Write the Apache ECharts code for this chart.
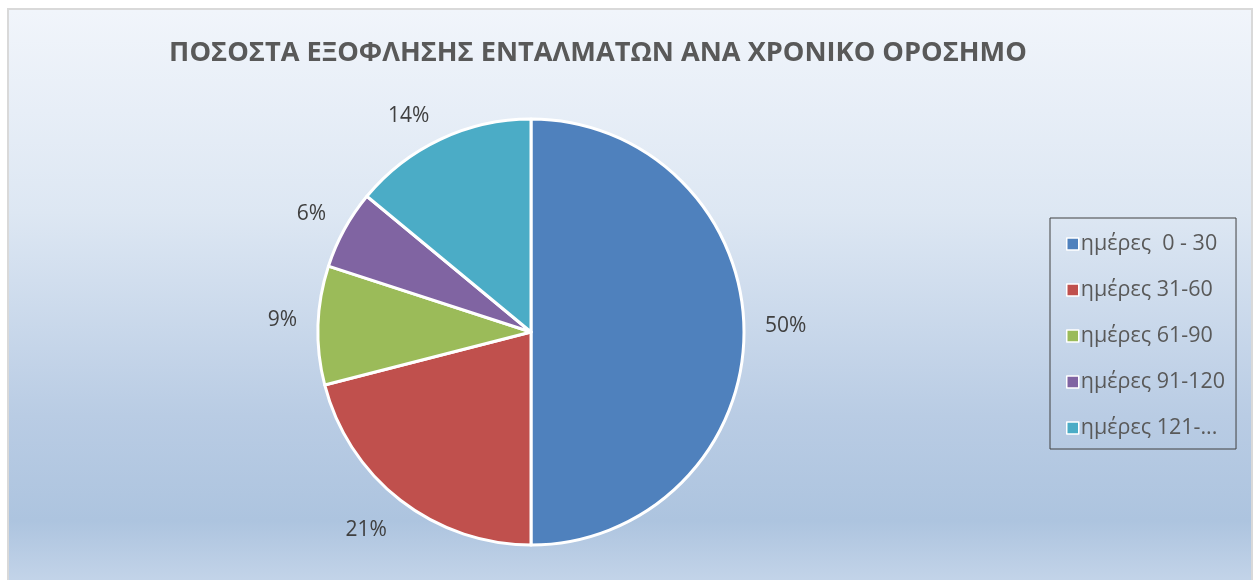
<!DOCTYPE html>
<html>
<head>
<meta charset="utf-8">
<script src="https://cdn.jsdelivr.net/npm/echarts@6/dist/echarts.min.js"></script>
<style>
    html, body { margin: 0; padding: 0; background: #ffffff; }
    #frame {
        position: absolute; left: 7px; top: 8px; width: 1242px; height: 580px;
        border: 2px solid #d9d9d9;
        background: linear-gradient(to bottom, #f1f5fb 0%, #dde7f3 35%, #b9cce4 70%, #adc4df 88%, #c6d6ea 100%);
    }
    #chart { position: absolute; left: 0; top: 0; width: 1253px; height: 580px; }
</style>
</head>
<body>
<div id="frame"></div>
<div id="chart"></div>
<script>
    // data
    var titleText = "ΠΟΣΟΣΤΑ ΕΞΟΦΛΗΣΗΣ ΕΝΤΑΛΜΑΤΩΝ ΑΝΑ ΧΡΟΝΙΚΟ ΟΡΟΣΗΜΟ";
    var categories = ["ημέρες  0 - 30", "ημέρες 31-60", "ημέρες 61-90", "ημέρες 91-120", "ημέρες 121-..."];
    var percents = [50, 21, 9, 6, 14];
    var colors = ["#4f81bd", "#c0504d", "#9bbb59", "#8064a2", "#4bacc6"];

    // small nudges so the labels sit where Excel put them
    var labelNudge = [[-4, -6], [6, 19], [4, -5], [5, -9], [6, -11]];

    var chart = echarts.init(document.getElementById("chart"));

    var pieData = [];
    for (var i = 0; i < categories.length; i++) {
        pieData.push({
            name: categories[i],
            value: percents[i],
            label: { offset: labelNudge[i] }
        });
    }

    var option = {
        backgroundColor: "transparent",
        color: colors,
        animation: false,
        title: {
            text: titleText,
            left: 593,
            top: 35,
            textAlign: "center",
            textStyle: {
                fontFamily: "Open Sans",
                fontSize: 27.2,
                fontWeight: "bold",
                color: "#595959"
            }
        },
        legend: {
            orient: "vertical",
            left: 1050,
            top: 218,
            data: categories,
            icon: "rect",
            itemWidth: 12,
            itemHeight: 12,
            itemGap: 24,
            borderColor: "#404040",
            borderWidth: 1,
            padding: [15, 11, 10, 16],
            itemStyle: {
                borderColor: "#ffffff",
                borderWidth: 1.5
            },
            textStyle: {
                fontFamily: "Open Sans",
                fontSize: 21.5,
                lineHeight: 20,
                color: "#595959",
                padding: [0, 0, 0, -3]
            }
        },
        series: [
            {
                type: "pie",
                center: [531, 332],
                radius: 213,
                startAngle: 90,
                clockwise: true,
                data: pieData,
                itemStyle: {
                    borderColor: "#ffffff",
                    borderWidth: 3
                },
                label: {
                    show: true,
                    position: "outside",
                    formatter: "{c}%",
                    fontFamily: "Open Sans",
                    fontSize: 21,
                    color: "#404040"
                },
                labelLine: {
                    show: false,
                    length: 14,
                    length2: 6
                },
                emphasis: { disabled: true }
            }
        ]
    };

    chart.setOption(option);
</script>
</body>
</html>
